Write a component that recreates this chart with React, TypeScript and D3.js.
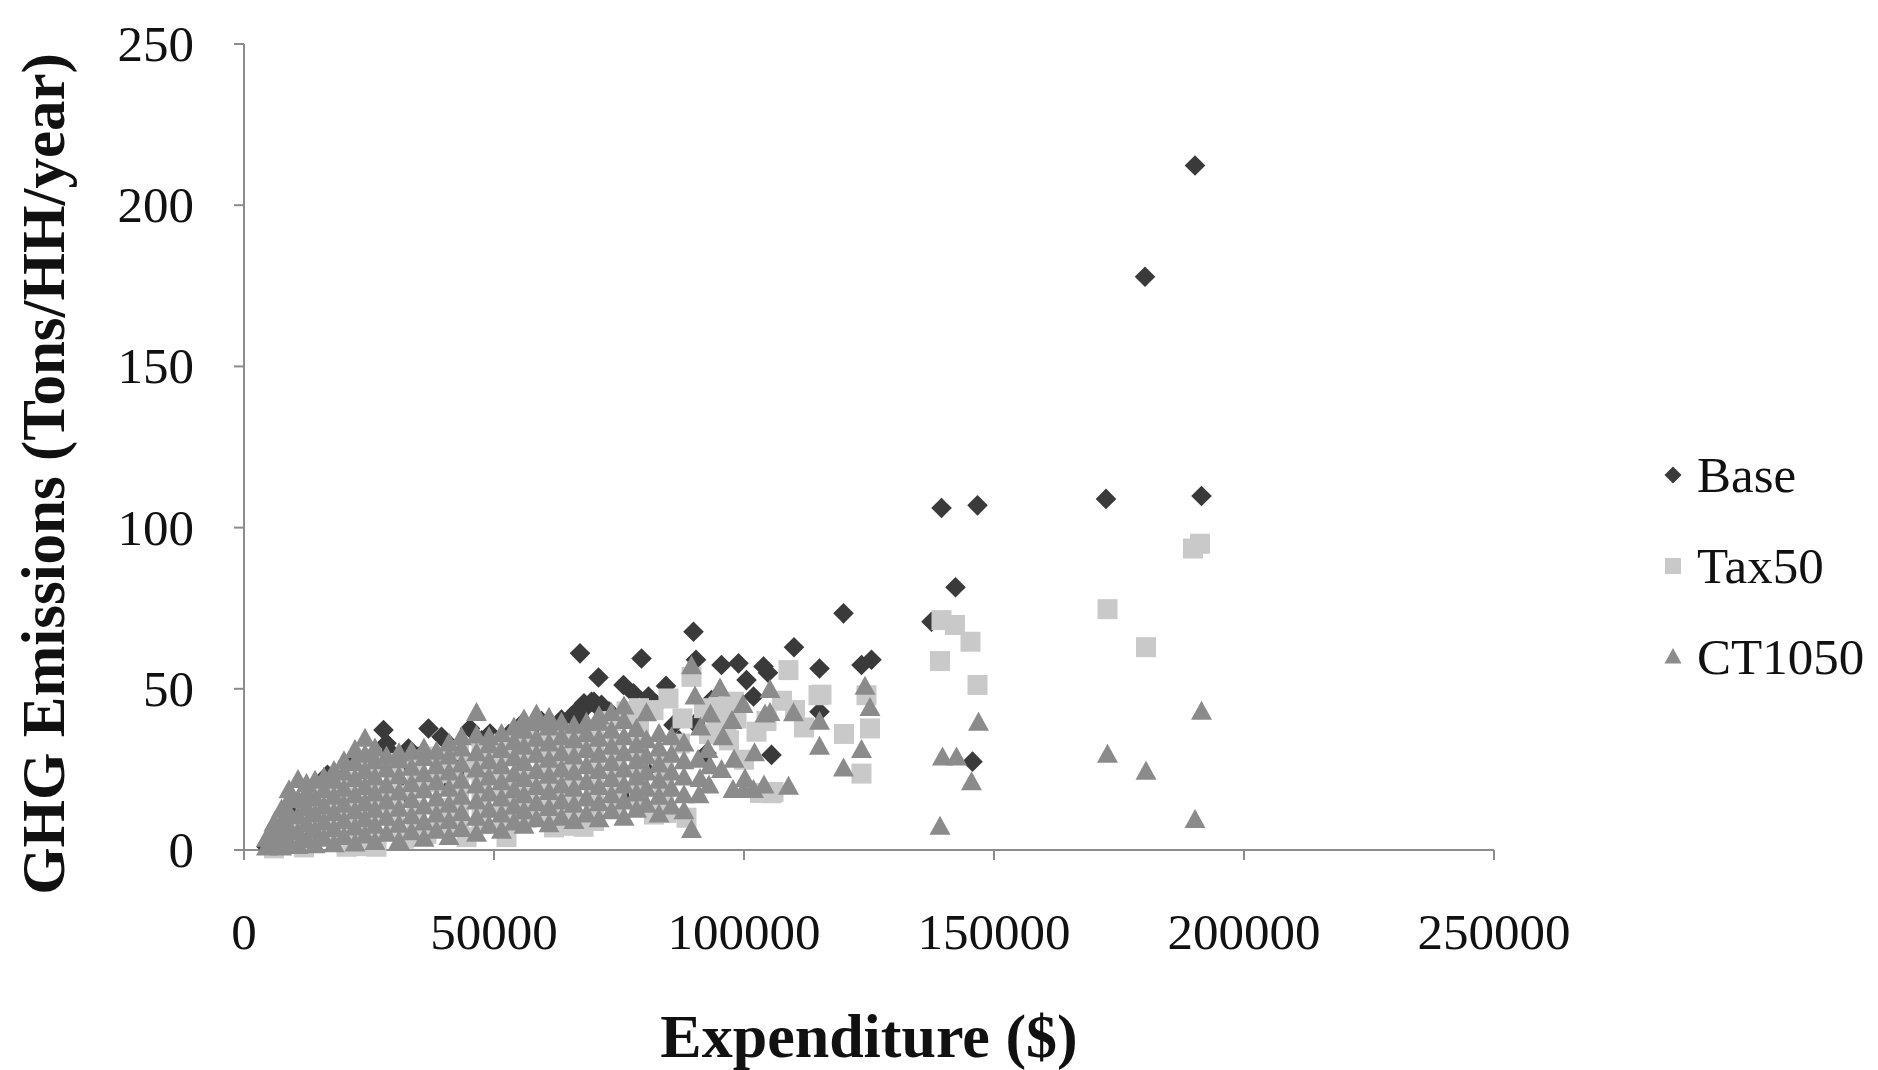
import * as d3 from "d3";

// [expenditure ($), GHG emissions (tons/HH/year)] estimated from the figure
const base: [number, number][] = [
  [4500, 1], [5800, 3], [7200, 5.5], [8000, 3], [9100, 11.6], [10500, 7], [12000, 5], [12500, 11],
  [14500, 14], [16000, 8], [16700, 23.3], [18500, 17], [20000, 10], [21200, 26.4], [23000, 21],
  [24000, 13], [25500, 24], [27900, 37.2], [28000, 16], [28500, 33.1], [29200, 30.5], [29900, 25.3],
  [31500, 27], [32000, 18], [32900, 31.5], [34800, 29], [36000, 20], [36900, 37.7], [39500, 35.1],
  [40000, 22], [41500, 32], [43000, 29], [44000, 24], [45200, 37.7], [47500, 34], [48000, 26],
  [49200, 36.1], [51000, 33], [52000, 28], [53000, 36], [55500, 39], [56000, 30], [57500, 37.5],
  [59500, 40], [60000, 32], [61500, 38.5], [63500, 40.5], [64000, 33], [65500, 41.5], [66500, 43],
  [67000, 42], [67200, 61], [68000, 45.5], [68500, 44.5], [69500, 46], [70000, 46], [70900, 53.5],
  [71000, 44], [71500, 45], [72500, 43], [73000, 43], [74000, 41.5], [75800, 16.5], [75900, 51.2],
  [77900, 48.6], [79500, 59.4], [80400, 24.8], [80900, 47.6], [82500, 45], [84400, 50.9],
  [85900, 38.8], [87000, 34], [89900, 67.7], [90200, 39.3], [90400, 59], [92500, 30], [93500, 46.5],
  [95500, 57.4], [98900, 57.9], [100500, 52.7], [101900, 47.6], [103900, 56.9], [104800, 55],
  [105500, 29.5], [110000, 62.9], [115100, 56.3], [115100, 42.9], [119900, 73.4], [123500, 57.4],
  [125500, 59], [137500, 70.8], [139500, 106.1], [142300, 81.5], [145700, 27.4], [146700, 106.9],
  [172400, 108.9], [180200, 177.8], [190200, 212.3], [191500, 109.8],
];

const tax50: [number, number][] = [
  [6000, 0.5], [8000, 3], [8000, 9], [10000, 5], [12000, 0.8], [13000, 4], [13000, 10], [13000, 16],
  [14000, 8], [17500, 4.5], [17500, 10.5], [17500, 16.5], [17500, 21], [18000, 10], [20500, 1],
  [21500, 5], [21500, 11], [21500, 17], [21500, 23], [22000, 13], [23500, 1.2], [25500, 5.5],
  [25500, 11.5], [25500, 17.5], [25500, 23.5], [25500, 28], [26000, 15], [26500, 1], [30000, 6],
  [30000, 12], [30000, 17], [30000, 24], [30000, 27], [32000, 3.5], [34000, 19], [34500, 6.5],
  [34500, 12.5], [34500, 24.5], [34500, 28], [35000, 4.5], [36500, 5], [38000, 21], [39000, 7],
  [39000, 13], [39000, 25], [39000, 29], [41200, 23.8], [43000, 7.5], [43000, 13.5], [43000, 19.5],
  [43000, 31], [44500, 4], [46000, 25], [47500, 8], [47500, 14], [47500, 20], [47500, 32],
  [50000, 27], [52000, 9], [52000, 15], [52000, 21], [52000, 33], [52500, 4], [54000, 29],
  [56500, 10], [56500, 16], [56500, 22], [56500, 34], [58000, 30], [61000, 10.5], [61000, 16.5],
  [61000, 22.5], [61000, 28.5], [61000, 34.5], [62000, 7], [62000, 32], [64500, 7.5], [65500, 11.5],
  [65500, 17.5], [65500, 23.5], [65500, 29.5], [65500, 35.5], [66000, 33], [67900, 7.2], [70000, 9],
  [70000, 12.5], [70000, 18.5], [70000, 24.5], [70000, 30.5], [70000, 35], [73500, 40], [74500, 13.5],
  [74500, 19.5], [74500, 25.5], [74500, 31.5], [76500, 43], [79000, 14.5], [79000, 20.5],
  [79000, 26.5], [79000, 32.5], [79000, 38], [79000, 44], [81900, 43.4], [82000, 11], [84000, 15],
  [84000, 21], [84000, 27], [84500, 11.5], [84900, 47], [87200, 33], [87700, 40.8], [88500, 10],
  [89500, 53.7], [92000, 44], [93000, 36], [94500, 42], [94900, 44.5], [96500, 40], [97000, 34],
  [98000, 46], [98500, 40.8], [100000, 28], [102500, 36.7], [103200, 17.7], [104500, 40],
  [105500, 17.6], [105900, 18], [107600, 46.3], [108900, 55.8], [110200, 43.4], [112000, 38],
  [114900, 48], [115500, 48.2], [120000, 36], [123500, 23.7], [124500, 48], [125200, 37.7],
  [139200, 58.6], [139500, 71.3], [142200, 69.8], [145300, 64.6], [146700, 51.2], [172700, 74.7],
  [180400, 62.9], [189800, 93.5], [191200, 95],
];

const ct1050: [number, number][] = [
  [4500, 0.8], [4500, 3.5],
  [6000, 1.5], [6000, 5.5], [6000, 8.2],
  [7500, 0.8], [7500, 4], [7500, 8.5], [7500, 12.5],
  [9000, 2.5], [9000, 7], [9000, 11.5], [9000, 15.5], [9000, 18.5],
  [10800, 1.2], [10800, 5.5], [10800, 10.5], [10800, 15.5], [10800, 21.7],
  [12500, 3], [12500, 8], [12500, 13], [12500, 17.5], [12500, 20.5],
  [14200, 1.5], [14200, 6], [14200, 11], [14200, 16], [14200, 21.5],
  [16000, 3.5], [16000, 8.5], [16000, 13.5], [16000, 18.5], [16000, 22.5],
  [18000, 1.8], [18000, 6.5], [18000, 11.5], [18000, 16.5], [18000, 21.5], [18000, 24.5],
  [20000, 4], [20000, 9], [20000, 14], [20000, 19], [20000, 24], [20000, 27.5],
  [22200, 2], [22200, 7], [22200, 12], [22200, 17], [22200, 22], [22200, 27], [22200, 31],
  [24200, 4.5], [24200, 9.5], [24200, 14.5], [24200, 19.5], [24200, 24.5], [24200, 29.5], [24200, 34.5],
  [26200, 2.5], [26200, 7.5], [26200, 12.5], [26200, 17.5], [26200, 22.5], [26200, 27.5], [26200, 31.5],
  [28500, 5], [28500, 10], [28500, 15], [28500, 20], [28500, 25], [28500, 29],
  [31000, 2.8], [31000, 7.8], [31000, 12.8], [31000, 17.8], [31000, 22.8], [31000, 27.8], [31000, 30],
  [33500, 5.5], [33500, 10.5], [33500, 15.5], [33500, 20.5], [33500, 25.5], [33500, 30.5],
  [36000, 3.5], [36000, 8.5], [36000, 13.5], [36000, 18.5], [36000, 23.5], [36000, 28.5], [36000, 31.5],
  [38500, 6], [38500, 11], [38500, 16], [38500, 21], [38500, 26], [38500, 30.5],
  [41000, 4], [41000, 9], [41000, 14], [41000, 19], [41000, 24], [41000, 29], [41000, 33],
  [43500, 6.5], [43500, 11.5], [43500, 16.5], [43500, 21.5], [43500, 26.5], [43500, 31.5], [43500, 35],
  [46500, 5], [46500, 10], [46500, 15], [46500, 20], [46500, 25], [46500, 30], [46500, 35.5], [46500, 42.5],
  [49000, 7.5], [49000, 12.5], [49000, 17.5], [49000, 22.5], [49000, 27.5], [49000, 32.5], [49000, 35],
  [51500, 6], [51500, 11], [51500, 16], [51500, 21], [51500, 26], [51500, 31], [51500, 36],
  [54000, 8.5], [54000, 13.5], [54000, 18.5], [54000, 23.5], [54000, 28.5], [54000, 33.5], [54000, 38],
  [56000, 7.5], [56000, 12], [56000, 17], [56000, 22], [56000, 27], [56000, 32], [56000, 37], [56000, 40.5],
  [58500, 9.5], [58500, 14.5], [58500, 19.5], [58500, 24.5], [58500, 29.5], [58500, 34.5], [58500, 39.5], [58500, 42],
  [61000, 8], [61000, 13], [61000, 18], [61000, 23], [61000, 28], [61000, 33], [61000, 38], [61000, 41],
  [63500, 10], [63500, 15], [63500, 20], [63500, 25], [63500, 30], [63500, 35], [63500, 39.5],
  [66000, 9], [66000, 14], [66000, 19], [66000, 24], [66000, 29], [66000, 34], [66000, 38.5],
  [68500, 11], [68500, 16], [68500, 21], [68500, 26], [68500, 31], [68500, 36], [68500, 39.5],
  [71000, 9.5], [71000, 14.5], [71000, 19.5], [71000, 24.5], [71000, 29.5], [71000, 34.5], [71000, 39.5], [71000, 41.5],
  [73500, 12], [73500, 17], [73500, 22], [73500, 27], [73500, 32], [73500, 37], [73500, 42.5],
  [76000, 10], [76000, 15], [76000, 20], [76000, 25], [76000, 30], [76000, 35], [76000, 40], [76000, 44.5],
  [78500, 12.5], [78500, 17.5], [78500, 22.5], [78500, 27.5], [78500, 32.5], [78500, 37.5],
  [80500, 14], [80500, 19], [80500, 24], [80500, 29], [80500, 34], [80500, 42.4],
  [83000, 11], [83000, 16.5], [83000, 21.5], [83000, 26.5], [83000, 31.5], [83000, 36],
  [85500, 13.5], [85500, 19], [85500, 24], [85500, 29.5], [85500, 35],
  [88000, 12], [88000, 17], [88000, 22.5], [88000, 27.5], [88000, 33],
  [89500, 6.2], [90200, 47.6], [89500, 57], [91000, 17], [91200, 22], [90800, 28], [91300, 38],
  [93000, 20], [93200, 26], [92800, 31], [93300, 42], [95500, 24.8], [95200, 50.1], [95800, 35],
  [97800, 18.6], [98000, 28], [97600, 40], [100000, 18.6], [100200, 22], [99800, 45], [101900, 18.6],
  [102100, 30], [104000, 20], [104200, 42], [105200, 42.5], [105200, 49.6], [108900, 19.6],
  [109900, 42.4], [115100, 32], [115100, 39.8], [119900, 25.3], [123500, 31], [124200, 50.6],
  [125200, 44], [139200, 7.2], [139700, 28.7], [142500, 28.7], [145500, 21], [146900, 39.5],
  [172700, 29.5], [180400, 24.3], [190200, 9.3], [191500, 42.9],
];

const xTicks = [0, 50000, 100000, 150000, 200000, 250000];
const yTicks = [0, 50, 100, 150, 200, 250];
const legendNames = ["Base", "Tax50", "CT1050"];

const W = 1878;
const H = 1070;
const FONT = "'Liberation Serif', 'Times New Roman', serif";
const AXIS = "#8c8c8c";

const diamond = (r: number) => `M0,${-r}L${r},0L0,${r}L${-r},0Z`;
const square = (r: number) => `M${-r},${-r}H${r}V${r}H${-r}Z`;
const triangle = (r: number) => `M0,${-r * 1.05}L${r},${r * 0.76}L${-r},${r * 0.76}Z`;

const series = [
  { name: "Base", data: base, path: diamond(10.3), legend: diamond(8.5), fill: "#3a3a3a" },
  { name: "Tax50", data: tax50, path: square(10), legend: square(8), fill: "#c9c9c9" },
  { name: "CT1050", data: ct1050, path: triangle(10.5), legend: triangle(8.5), fill: "#8b8b8b" },
];

export default function App() {
  const x = d3.scaleLinear().domain([0, 250000]).range([244, 1494]);
  const y = d3.scaleLinear().domain([0, 250]).range([850, 44]);

  return (
    <svg
      width={W}
      height={H}
      style={{ position: "absolute", left: 0, top: 0, background: "#fff" }}
      fontFamily={FONT}
    >
      <rect width={W} height={H} fill="#fff" />

      {/* axes */}
      <line x1={x(0)} x2={x(0)} y1={y(250)} y2={y(0) + 10} stroke={AXIS} strokeWidth={2} />
      <line x1={x(0) - 10} x2={x(250000)} y1={y(0)} y2={y(0)} stroke={AXIS} strokeWidth={2} />
      {yTicks.map((t) => (
        <g key={"y" + t}>
          <line x1={x(0) - 10} x2={x(0)} y1={y(t)} y2={y(t)} stroke={AXIS} strokeWidth={2} />
          <text x={194} y={y(t) + 17} textAnchor="end" fontSize={51} fill="#111">
            {t}
          </text>
        </g>
      ))}
      {xTicks.map((t) => (
        <g key={"x" + t}>
          <line x1={x(t)} x2={x(t)} y1={y(0)} y2={y(0) + 10} stroke={AXIS} strokeWidth={2} />
          <text x={x(t)} y={949} textAnchor="middle" fontSize={51} fill="#111">
            {t}
          </text>
        </g>
      ))}

      {/* points, drawn in series order */}
      {series.map((s) => (
        <g key={s.name} fill={s.fill}>
          {s.data.map((d, i) => (
            <path key={i} d={s.path} transform={`translate(${x(d[0])},${y(d[1])})`} />
          ))}
        </g>
      ))}

      {/* axis titles */}
      <text
        transform={`translate(64,${(y(0) + y(250)) / 2 + 27}) rotate(-90)`}
        textAnchor="middle"
        fontSize={61}
        fontWeight="bold"
        fill="#111"
      >
        GHG Emissions (Tons/HH/year)
      </text>
      <text x={(x(0) + x(250000)) / 2} y={1057} textAnchor="middle" fontSize={62} fontWeight="bold" fill="#111">
        Expenditure ($)
      </text>

      {/* legend */}
      {series.map((s, i) => (
        <g key={"lg" + i} transform={`translate(1673,${475 + i * 91})`}>
          <path d={s.legend} fill={s.fill} />
          <text x={24} y={17} fontSize={51} fill="#111">
            {legendNames[i]}
          </text>
        </g>
      ))}
    </svg>
  );
}
